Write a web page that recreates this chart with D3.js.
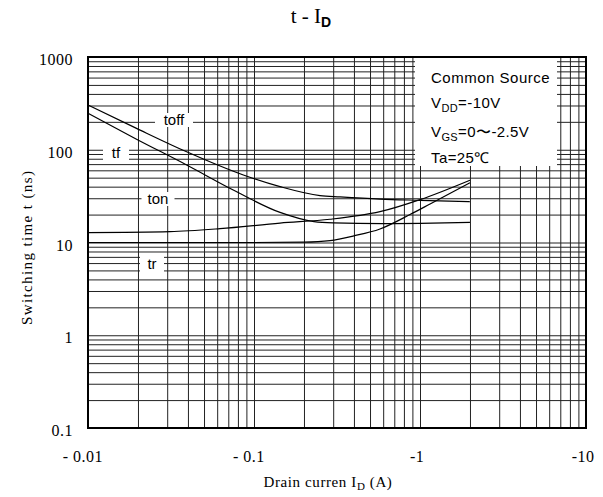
<!DOCTYPE html>
<html>
<head>
<meta charset="utf-8">
<script src="https://cdn.jsdelivr.net/npm/d3@7"></script>
<style>
  body { margin: 0; background: #fff; }
  .serif { font-family: "Liberation Serif", "DejaVu Serif", serif; }
  .sans { font-family: "Liberation Sans", Arial, sans-serif; }
</style>
</head>
<body>
<div id="chart"></div>
<script>
// axis ticks
var xTicks = [0.01, 0.1, 1, 10];
var xTickPrefix = ["- ", "- ", "-", "-"];
var xTickNumbers = ["0.01", "0.1", "1", "10"];
var yTicks = [0.1, 1, 10, 100, 1000];
var yTickLabels = ["0.1", "1", "10", "100", "1000"];

// curves (I in A, t in ns)
var toffI = [0.01, 0.0196, 0.0393, 0.0863, 0.1435, 0.25, 0.33, 0.574, 1, 2];
var toffT = [304, 170, 95, 53.4, 40, 32, 31, 29.4, 28.5, 27.5];
var tfI = [0.01, 0.0196, 0.0393, 0.075, 0.1435, 0.23, 0.3, 0.6, 1, 2];
var tfT = [247, 130, 68.5, 36.8, 21.1, 16.8, 16.3, 16, 16.1, 16.5];
var tonI = [0.01, 0.0312, 0.0624, 0.1435, 0.287, 0.574, 1, 2];
var tonT = [12.8, 13.1, 14.1, 16.2, 17.8, 21.5, 29, 47];
var trI = [0.01, 0.1, 0.2, 0.287, 0.4, 0.574, 0.87, 1.15, 2];
var trT = [10, 10, 10.1, 10.5, 11.8, 14, 20, 26, 44];

var margin = { top: 57, right: 17, bottom: 69, left: 88 },
    width = 603 - margin.left - margin.right,
    height = 497 - margin.top - margin.bottom;

var x = d3.scaleLog().domain([0.01, 10]).range([0, width]),
    y = d3.scaleLog().domain([0.1, 1000]).range([height, 0]);

var svg = d3.select("#chart").append("svg")
    .attr("width", 603)
    .attr("height", 497);

var g = svg.append("g")
    .attr("transform", "translate(" + margin.left + "," + margin.top + ")");

// minor log grid values
function logGrid(lo, hi) {
    var out = [];
    for (var d = lo; d < hi; d *= 10) {
        for (var k = 1; k <= 9; k++) out.push(d * k);
    }
    out.push(hi);
    return out;
}

g.append("g")
    .attr("class", "grid")
    .call(d3.axisBottom(x).tickValues(logGrid(0.01, 10)).tickSize(height).tickFormat(""))
    .call(function (s) { s.select(".domain").remove(); })
    .selectAll("line").attr("stroke", "#222").attr("stroke-width", 1);

g.append("g")
    .attr("class", "grid")
    .call(d3.axisLeft(y).tickValues(logGrid(0.1, 1000)).tickSize(-width).tickFormat(""))
    .call(function (s) { s.select(".domain").remove(); })
    .selectAll("line").attr("stroke", "#222").attr("stroke-width", 1);

// white backgrounds behind legend box and curve labels
g.append("rect")
    .attr("x", 415 - margin.left).attr("y", 1)
    .attr("width", 142).attr("height", 108)
    .attr("fill", "#fff");

var labelBoxes = [
    { name: "toff", cx: 174, cy: 120, w: 38, h: 14 },
    { name: "tf", cx: 116, cy: 153, w: 26, h: 14 },
    { name: "ton", cx: 158, cy: 199, w: 33, h: 14 },
    { name: "tr", cx: 152, cy: 264, w: 24, h: 16 }
];

g.selectAll(".lblbg")
    .data(labelBoxes)
    .enter().append("rect")
    .attr("class", "lblbg")
    .attr("x", function (d) { return d.cx - margin.left - d.w / 2; })
    .attr("y", function (d) { return d.cy - margin.top - d.h / 2; })
    .attr("width", function (d) { return d.w; })
    .attr("height", function (d) { return d.h; })
    .attr("fill", "#fff");

// curves
var line = d3.line()
    .x(function (d) { return x(d[0]); })
    .y(function (d) { return y(d[1]); })
    .curve(d3.curveMonotoneX);

[[toffI, toffT], [tfI, tfT], [tonI, tonT], [trI, trT]].forEach(function (s) {
    var pts = s[0].map(function (v, i) { return [v, s[1][i]]; });
    g.append("path")
        .datum(pts)
        .attr("d", line)
        .style("fill", "none")
        .style("stroke", "#000")
        .style("stroke-width", "1.2px");
});

// frame
g.append("rect")
    .attr("width", width).attr("height", height)
    .attr("fill", "none")
    .attr("stroke", "#000")
    .attr("stroke-width", 2);

// curve labels
g.selectAll(".lbl")
    .data(labelBoxes)
    .enter().append("text")
    .attr("class", "sans")
    .attr("x", function (d) { return d.cx - margin.left; })
    .attr("y", function (d) { return d.cy - margin.top + 5; })
    .attr("text-anchor", "middle")
    .style("font-size", "15px")
    .text(function (d) { return d.name; });

// tick labels
g.selectAll(".ylab")
    .data(yTicks)
    .enter().append("text")
    .attr("class", "serif")
    .attr("x", -15)
    .attr("y", function (d) { return y(d) + 8; })
    .attr("text-anchor", "end")
    .style("font-size", "16px")
    .style("letter-spacing", "0.5px")
    .text(function (d, i) { return yTickLabels[i]; });

// x labels: the number part is centred on the tick, the minus hangs left
g.selectAll(".xlab")
    .data(xTicks)
    .enter().append("text")
    .attr("class", "serif xlab")
    .attr("y", height + 34)
    .attr("text-anchor", "end")
    .style("font-size", "16px")
    .style("letter-spacing", "0.5px")
    .text(function (d, i) { return xTickPrefix[i] + xTickNumbers[i]; })
    .each(function (d, i) {
        var tmp = g.append("text").attr("class", "serif")
            .style("font-size", "16px").style("letter-spacing", "0.5px")
            .text(xTickNumbers[i]);
        var w = tmp.node().getComputedTextLength();
        tmp.remove();
        d3.select(this).attr("x", x(d) + w / 2);
    });

// legend text
var legend = g.append("g")
    .attr("class", "sans")
    .attr("transform", "translate(" + (431 - margin.left) + ",0)")
    .style("font-size", "15px")
    .style("letter-spacing", "0.4px");

legend.append("text").attr("y", 82.7 - margin.top)
    .attr("textLength", 119).text("Common Source");

var vdd = legend.append("text").attr("y", 108.3 - margin.top);
vdd.append("tspan").text("V");
vdd.append("tspan").attr("dy", 4).style("font-size", "11px").text("DD");
vdd.append("tspan").attr("dy", -4).text("=-10V");

var vgs = legend.append("text").attr("y", 137.3 - margin.top);
vgs.append("tspan").text("V");
vgs.append("tspan").attr("dy", 4).style("font-size", "11px").text("GS");
vgs.append("tspan").attr("dy", -4).text("=0〜-2.5V");

legend.append("text").attr("y", 163 - margin.top).text("Ta=25℃");

// title
var title = svg.append("text")
    .attr("class", "serif")
    .attr("x", 311)
    .attr("y", 23)
    .attr("text-anchor", "middle")
    .style("font-size", "21px");
title.append("tspan").text("t - I");
title.append("tspan").attr("dy", 4).style("font-size", "14px").attr("class", "sans").style("font-weight", "bold").text("D");

// axis titles
var xt = svg.append("text")
    .attr("class", "serif")
    .attr("x", 328)
    .attr("y", 487)
    .attr("text-anchor", "middle")
    .style("font-size", "15px")
    .style("letter-spacing", "0.6px");
xt.append("tspan").text("Drain curren  I");
xt.append("tspan").attr("dy", 3).style("font-size", "11px").text("D");
xt.append("tspan").attr("dy", -3).text(" (A)");

svg.append("text")
    .attr("class", "serif")
    .attr("transform", "translate(32,248) rotate(-90)")
    .attr("text-anchor", "middle")
    .style("font-size", "15px")
    .attr("textLength", 154)
    .text("Switching time  t (ns)");
</script>
</body>
</html>
